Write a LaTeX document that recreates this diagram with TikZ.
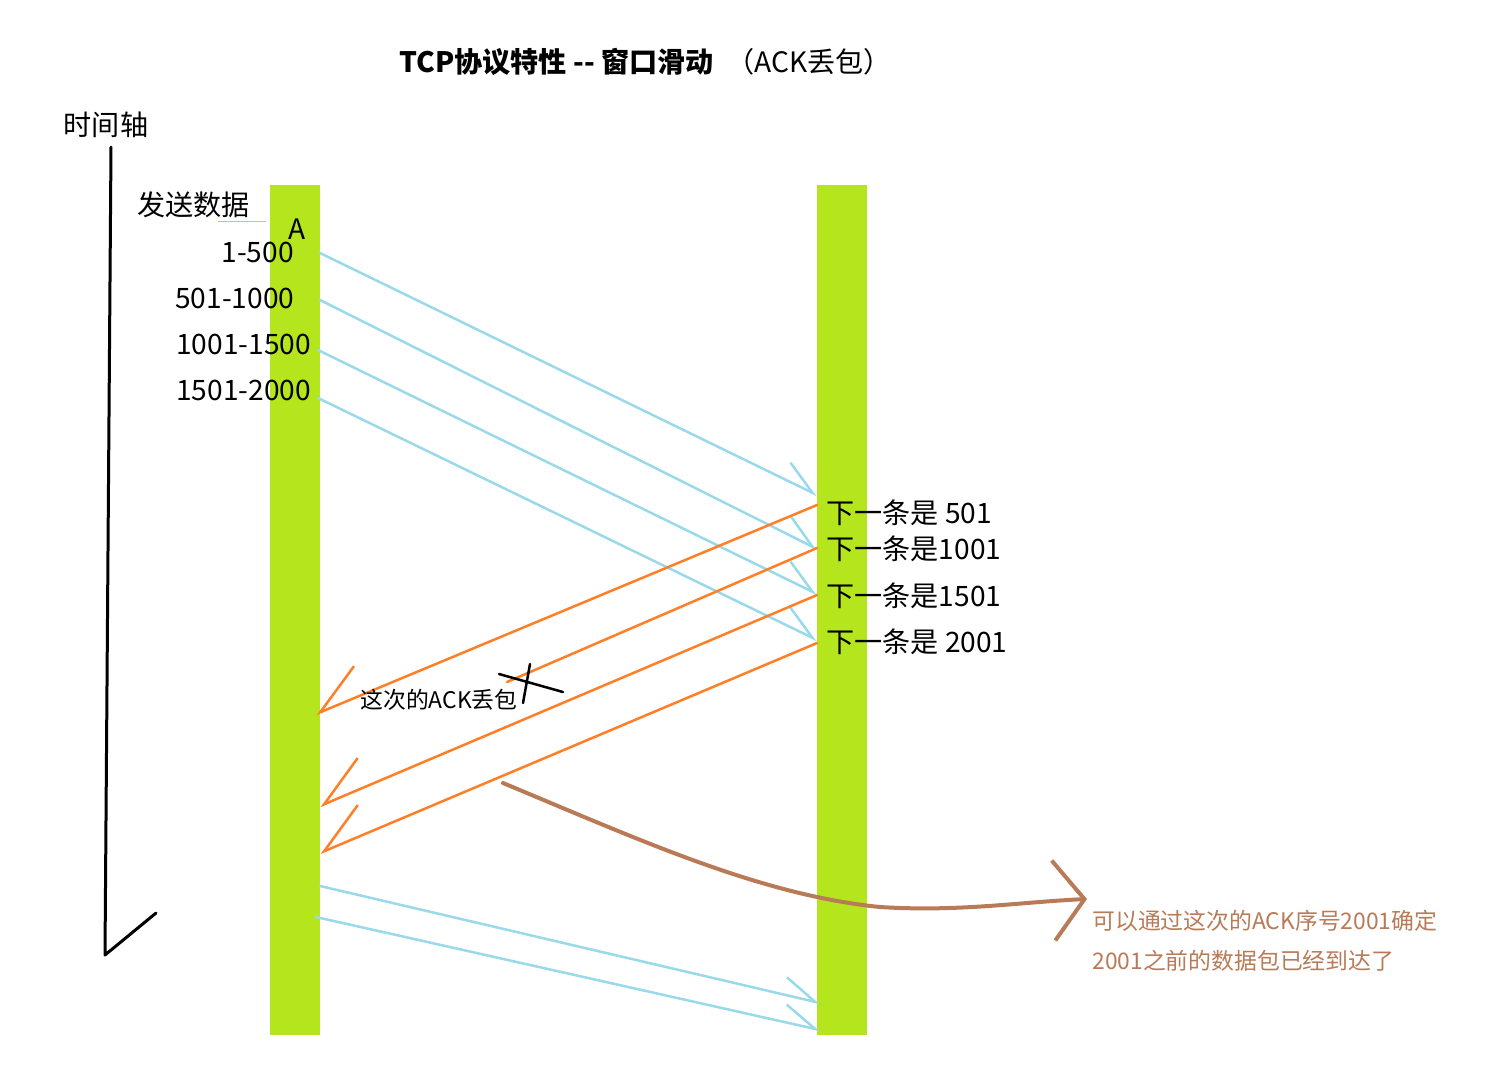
\documentclass[tikz,border=0pt]{standalone}
\usepackage{fontspec}
\setmainfont{Noto Sans CJK SC}
\usetikzlibrary{arrows.meta}
\definecolor{paintlime}{RGB}{181,230,29}
\definecolor{skyline}{RGB}{153,217,234}
\definecolor{ackorange}{RGB}{255,127,39}
\definecolor{notebrown}{RGB}{185,122,87}
\tikzset{
  hostbar/.style={fill=paintlime, inner sep=0pt, minimum width=1cm, minimum height=17cm},
  lbl/.style={font=\fontsize{16}{19}\selectfont, inner sep=0pt, anchor=west},
  notetext/.style={font=\fontsize{13}{15}\selectfont, inner sep=0pt, anchor=west},
  pen/.style={line width=#1, line cap=round, line join=round},
  pen/.default={0.05cm},
  datalink/.style={pen, draw=skyline, -{Straight Barb[left, length=0.66cm, width=0.7cm]}},
  acklink/.style={pen, draw=ackorange, -{Straight Barb[right, length=0.98cm, width=1.18cm]}},
  notelink/.style={pen=0.08cm, draw=notebrown, -{Straight Barb[length=0.62cm, width=1.6cm]}}
}
\begin{document}
\begin{tikzpicture}[x=0.02cm, y=-0.02cm]
  \useasboundingbox (0,0) rectangle (1504,1083);
  % title
  \node[lbl] (title) at (399,62) {\textbf{TCP协议特性 -{}- 窗口滑动}\ \ （ACK丢包）};
  % time axis
  \node[lbl, anchor=center] (axis) at (106,125) {时间轴};
  \coordinate (t0) at (111,147);
  \coordinate (t1) at (105,955);
  \coordinate (t2) at (156,913);
  \draw[pen=0.06cm] (t0) -- (t1) -- (t2);
  % hosts
  \node[hostbar] (hostA) at (295,610) {};
  \node[hostbar] (hostB) at (842,610) {};
  \node[lbl] (send) at (137,205) {发送数据};
  \draw[paintlime, line width=0.02cm] (218,221) -- (266,221);
  \node[lbl, anchor=center] (nameA) at (297,229) {A};
  \node[lbl, anchor=east] (seg1) at (294,252) {1-500};
  \node[lbl] (seg2) at (175,298) {501-1000};
  \node[lbl] (seg3) at (176,344) {1001-1500};
  \node[lbl] (seg4) at (176,390) {1501-2000};
  % data segments
  \coordinate (a1) at (320,253); \coordinate (b1) at (817,495);
  \coordinate (a2) at (320,300); \coordinate (b2) at (817,549);
  \coordinate (a3) at (318,350); \coordinate (b3) at (817,594);
  \coordinate (a4) at (318,398); \coordinate (b4) at (817,640);
  \draw[datalink] (a1) -- (b1);
  \draw[datalink] (a2) -- (b2);
  \draw[datalink] (a3) -- (b3);
  \draw[datalink] (a4) -- (b4);
  \node[lbl] (next1) at (826,513) {下一条是 501};
  \node[lbl] (next2) at (826,549) {下一条是1001};
  \node[lbl] (next3) at (826,596) {下一条是1501};
  \node[lbl] (next4) at (826,642) {下一条是 2001};
  % acks
  \coordinate (c1) at (817,505); \coordinate (d1) at (316,714);
  \coordinate (c2) at (817,548); \coordinate (lost) at (507,682);
  \coordinate (c3) at (817,595); \coordinate (d3) at (320,806);
  \coordinate (c4) at (817,643); \coordinate (d4) at (320,853);
  \draw[acklink] (c1) -- (d1);
  \draw[pen, draw=ackorange] (c2) -- (lost);
  \draw[acklink] (c3) -- (d3);
  \draw[acklink] (c4) -- (d4);
  \draw[pen] (499,674) -- (563,692);
  \draw[pen] (530,664) -- (523,703);
  \node[notetext] (lostlbl) at (360,700) {这次的ACK丢包};
  % next segments
  \coordinate (a5) at (320,886); \coordinate (b5) at (820,1003);
  \coordinate (a6) at (316,917); \coordinate (b6) at (820,1030);
  \draw[datalink] (a5) -- (b5);
  \draw[datalink] (a6) -- (b6);
  % note
  \coordinate (n0) at (503,783);
  \coordinate (n1) at (1087,899);
  \draw[notelink] (n0) .. controls (640,840) and (760,895) .. (880,907)
    .. controls (960,912) and (1020,902) .. (n1);
  \node[notetext, text=notebrown] (note1) at (1092,921) {可以通过这次的ACK序号2001确定};
  \node[notetext, text=notebrown] (note2) at (1092,961) {2001之前的数据包已经到达了};
\end{tikzpicture}
\end{document}
